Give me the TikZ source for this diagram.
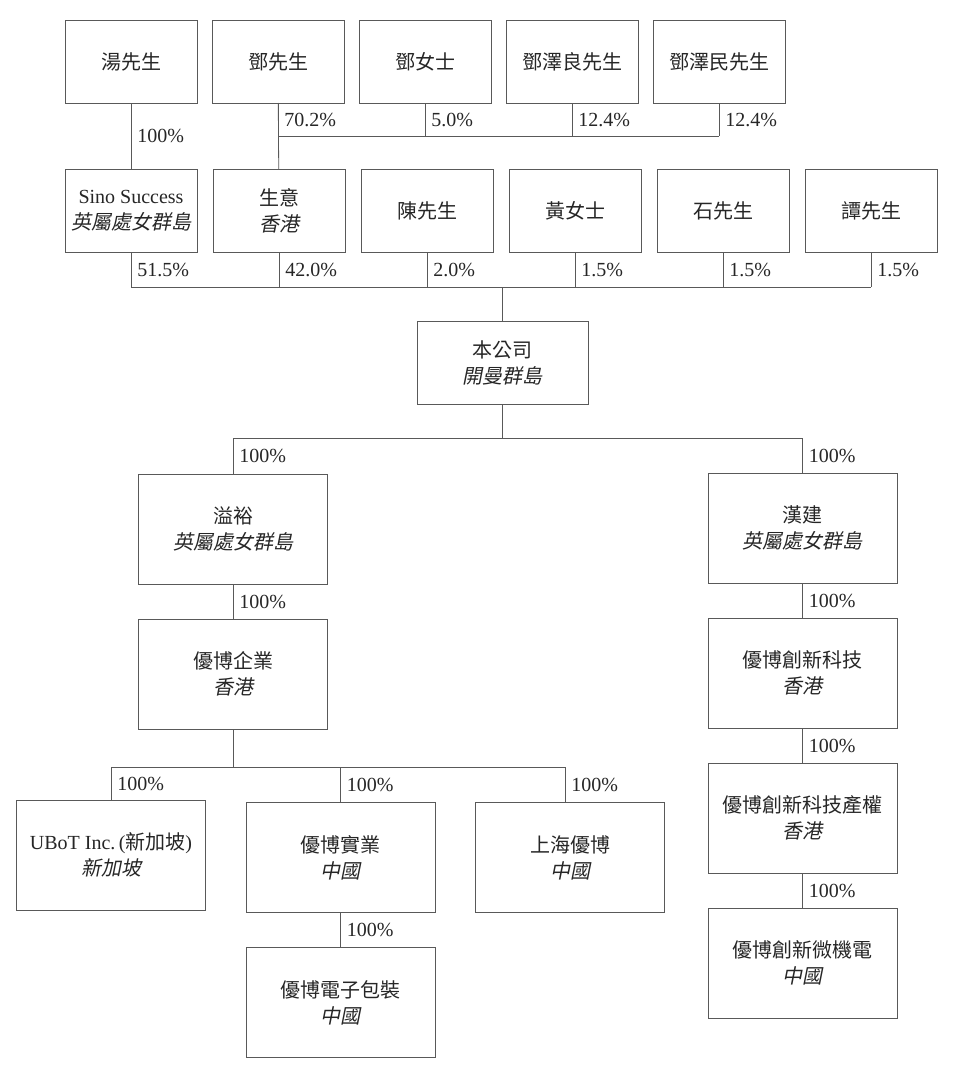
\documentclass[tikz,border=0pt]{standalone}
\usepackage{fontspec}
\setmainfont{Liberation Serif}
\newfontfamily\cjk{Noto Sans CJK TC}
\newfontfamily\cjkit[FakeSlant=0.2]{Noto Sans CJK TC}
\usetikzlibrary{positioning}

\begin{document}
\begin{tikzpicture}[x=1pt, y=-1pt, node distance=35pt and 15pt,
  box/.style={rectangle, draw=black!65, line width=0.8pt, outer sep=0pt, align=center, minimum width=132pt, minimum height=83pt, inner sep=0pt, font=\fontsize{20}{26}\cjk, text=black!85},
  sub/.style={box, minimum width=189pt, minimum height=110pt},
  pct/.style={anchor=west, inner sep=0pt, xshift=6pt, font=\fontsize{20}{24}\selectfont, text=black!85},
  link/.style={draw=black!65, line width=0.8pt}]
\useasboundingbox (0,0) rectangle (960,1076);
\node[box] (tang) at (131,61.5) {湯先生};
\node[box, right=of tang] (deng) {鄧先生};
\node[box, right=of deng] (dengf) {鄧女士};
\node[box, right=of dengf] (zl) {鄧澤良先生};
\node[box, right=of zl] (zm) {鄧澤民先生};
\node[box] (sino) at (131,210.5) {{\rmfamily Sino Success}\\{\cjkit 英屬處女群島}};
\node[box, right=16pt of sino] (biz) {生意\\{\cjkit 香港}};
\node[box, right=16pt of biz] (chen) {陳先生};
\node[box, right=16pt of chen] (wong) {黃女士};
\node[box, right=16pt of wong] (shek) {石先生};
\node[box, right=16pt of shek] (tam) {譚先生};
\node[box, minimum width=171pt] (company) at (502.5,362.5) {本公司\\{\cjkit 開曼群島}};
\node[sub] (yiyu) at (233,529) {溢裕\\{\cjkit 英屬處女群島}};
\node[sub, below=of yiyu] (ubent) {優博企業\\{\cjkit 香港}};
\node[sub] (ubot) at (111,855) {{\rmfamily UBoT Inc.\,(}新加坡{\rmfamily )}\\{\cjkit 新加坡}};
\node[sub] (ubind) at (340.5,857.5) {優博實業\\{\cjkit 中國}};
\node[sub, below=of ubind] (ubpack) {優博電子包裝\\{\cjkit 中國}};
\node[sub] (shub) at (570,857.5) {上海優博\\{\cjkit 中國}};
\node[sub] (hanjian) at (802.5,528) {漢建\\{\cjkit 英屬處女群島}};
\node[sub, below=of hanjian] (ubtech) {優博創新科技\\{\cjkit 香港}};
\node[sub, below=of ubtech] (ubip) {優博創新科技產權\\{\cjkit 香港}};
\node[sub, below=of ubip] (ubmems) {優博創新微機電\\{\cjkit 中國}};
\coordinate (b1) at (0,136);
\coordinate (b2) at (0,287);
\coordinate (b3) at (0,438);
\coordinate (b4) at (0,767);
\coordinate (d3) at (565,767);
\draw[link] (tang) -- node[pct] {100\%} (sino);
\draw[link] (deng) -- (biz);
\foreach \n/\p in {deng/70.2, dengf/5.0, zl/12.4, zm/12.4}
  \draw[link] (\n.south) -- node[pct] {\p\%} (\n |- b1);
\draw[link] (deng |- b1) -- (zm |- b1);
\foreach \n/\p in {sino/51.5, biz/42.0, chen/2.0, wong/1.5, shek/1.5, tam/1.5}
  \draw[link] (\n.south) -- node[pct] {\p\%} (\n |- b2);
\draw[link] (sino |- b2) -- (tam |- b2);
\draw[link] (company |- b2) -- (company);
\draw[link] (company) -- (company |- b3);
\draw[link] (yiyu |- b3) -- (hanjian |- b3);
\draw[link] (yiyu |- b3) -- node[pct] {100\%} (yiyu);
\draw[link] (hanjian |- b3) -- node[pct] {100\%} (hanjian);
\draw[link] (yiyu) -- node[pct] {100\%} (ubent);
\draw[link] (ubent) -- (ubent |- b4);
\draw[link] (ubot |- b4) -- (d3);
\draw[link] (ubot |- b4) -- node[pct] {100\%} (ubot);
\draw[link] (ubind |- b4) -- node[pct] {100\%} (ubind);
\draw[link] (d3) -- node[pct] {100\%} (d3 |- shub.north);
\draw[link] (ubind) -- node[pct] {100\%} (ubpack);
\draw[link] (hanjian) -- node[pct] {100\%} (ubtech);
\draw[link] (ubtech) -- node[pct] {100\%} (ubip);
\draw[link] (ubip) -- node[pct] {100\%} (ubmems);
\end{tikzpicture}
\end{document}
